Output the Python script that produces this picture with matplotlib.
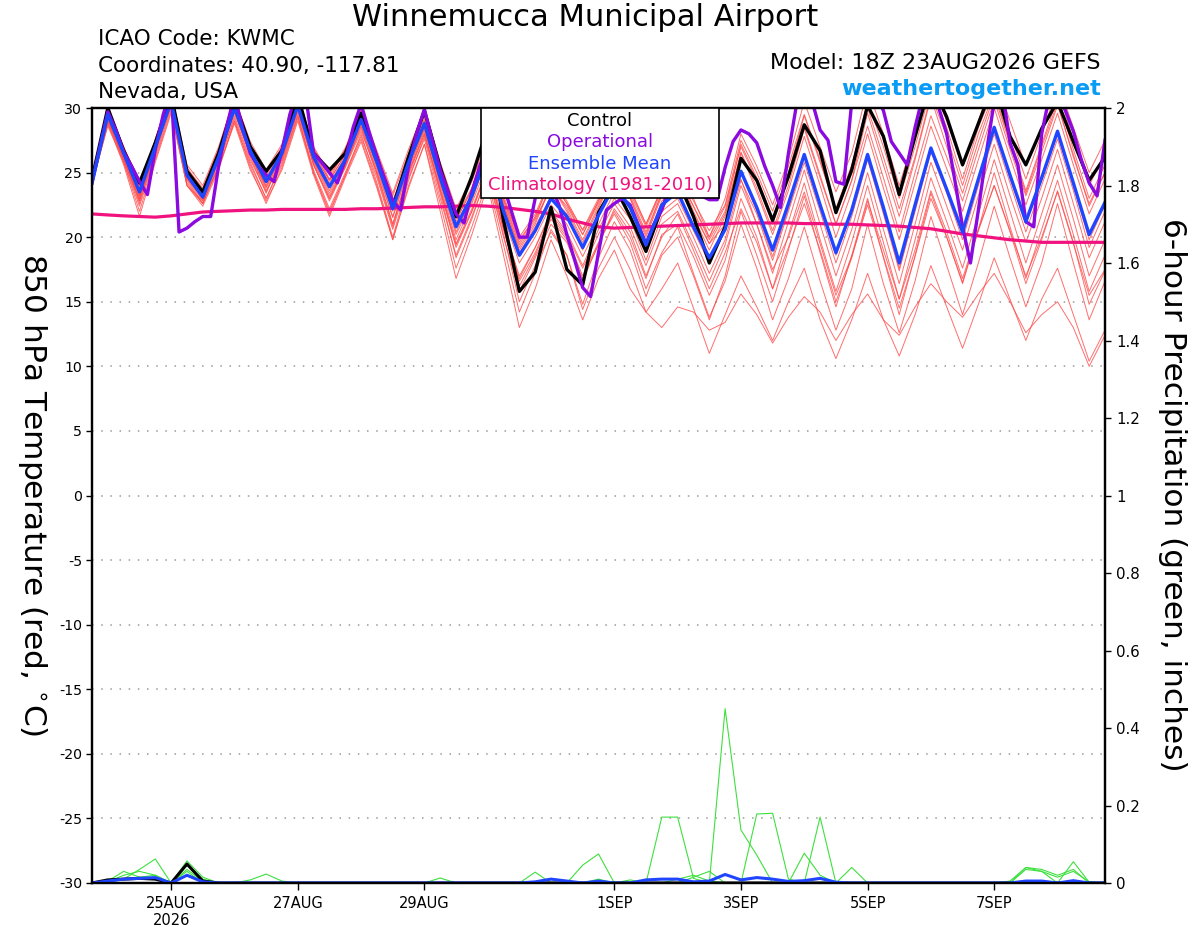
import numpy as np
import matplotlib
matplotlib.use("Agg")
import matplotlib.pyplot as plt
from matplotlib.patches import Rectangle
from datetime import datetime, timedelta

plt.rcParams['font.family'] = ['DejaVu Sans']
plt.rcParams['axes.unicode_minus'] = False

# ---------- data ----------
start = datetime(2026, 8, 23, 18)          # model run 18Z 23AUG2026
hours = np.arange(0, 385, 6)               # 6-hourly ensemble output
op_hours = np.arange(0, 385, 3)            # 3-hourly operational output

tick_days = [datetime(2026, 8, 25), datetime(2026, 8, 27), datetime(2026, 8, 29),
             datetime(2026, 9, 1), datetime(2026, 9, 3), datetime(2026, 9, 5),
             datetime(2026, 9, 7)]

# 850 hPa temperature (C)
control = [24.5, 30.0, 26.7, 24.2, 27.3, 31.0, 25.1, 23.5, 26.5, 30.5, 27.0, 25.1, 26.7,
           31.0, 26.5, 25.2, 26.5, 29.6, 26.2, 22.3, 26.2, 29.8, 25.4, 21.6, 24.7,
           28.5, 21.3, 15.8, 17.3, 22.3, 17.5, 16.3, 21.9, 24.0, 21.6, 18.9, 22.3,
           24.5, 21.6, 18.0, 20.8, 26.1, 24.4, 21.3, 24.7, 28.7, 26.7, 21.9, 25.2,
           30.2, 27.8, 23.3, 27.8, 32.0, 29.3, 25.6, 28.8, 32.0, 27.8, 25.6, 28.4,
           30.5, 27.4, 24.4, 26.2]

ens_mean = [24.2, 29.5, 26.5, 23.5, 27.0, 30.5, 24.8, 23.1, 26.2, 30.0, 26.7, 24.3, 26.5,
            30.2, 26.2, 23.9, 26.0, 29.1, 25.8, 22.2, 25.8, 28.8, 24.6, 20.8, 23.2,
            26.5, 22.0, 18.6, 20.5, 23.0, 21.6, 19.2, 21.7, 24.0, 22.3, 19.4, 22.5,
            23.5, 20.8, 18.4, 20.6, 25.1, 22.3, 19.0, 22.6, 26.4, 22.5, 18.8, 22.1,
            26.4, 22.3, 18.0, 22.5, 26.9, 23.7, 20.4, 24.5, 28.5, 24.8, 21.2, 24.6,
            28.2, 24.2, 20.2, 22.7]

operational = [24.2, 27.0, 29.7, 28.3, 26.6, 25.5, 24.3, 23.3, 26.8, 29.5,
               31.5, 20.4, 20.7, 21.2, 21.6, 21.6, 25.5, 28.5, 31.0, 28.5,
               26.5, 25.5, 24.8, 24.3, 26.7, 29.5, 31.5, 31.0, 26.5, 25.8,
               25.0, 24.2, 26.0, 28.5, 30.3, 28.2, 26.2, 24.5, 22.8, 22.1,
               25.5, 28.0, 29.9, 27.5, 25.2, 23.5, 21.8, 21.1, 23.5, 25.5,
               27.0, 26.0, 24.0, 22.0, 20.0, 20.0, 23.0, 25.0, 24.0, 22.5,
               20.2, 18.2, 16.1, 15.4, 18.8, 22.1, 22.6, 23.0, 22.5, 21.0,
               19.5, 21.0, 22.1, 24.0, 25.0, 25.0, 24.0, 23.2, 22.9, 22.9,
               25.4, 27.4, 28.3, 28.0, 27.3, 25.5, 24.0, 22.3, 26.5, 30.2,
               31.0, 30.5, 28.3, 27.5, 24.3, 24.1, 30.5, 32.0, 32.0, 31.0,
               29.8, 27.4, 26.5, 25.6, 28.5, 31.0, 31.5, 30.0, 28.0, 24.5,
               20.8, 18.0, 22.1, 26.5, 30.5, 31.5, 27.3, 25.6, 21.2, 20.8,
               28.0, 31.0, 31.0, 29.8, 28.2, 26.0, 24.2, 23.2, 27.5]

climatology = [21.8, 21.72, 21.65, 21.6, 21.55, 21.65, 21.8, 21.95, 22.0, 22.05,
               22.1, 22.1, 22.15, 22.15, 22.15, 22.15, 22.15, 22.2, 22.2, 22.25,
               22.3, 22.35, 22.35, 22.4, 22.45, 22.4, 22.3, 22.15, 22.0, 21.8,
               21.4, 21.1, 20.8, 20.7, 20.75, 20.8, 20.85, 20.9, 20.95, 21.0,
               21.05, 21.1, 21.1, 21.1, 21.1, 21.05, 21.05, 21.0, 21.0, 20.95,
               20.9, 20.85, 20.75, 20.65, 20.45, 20.25, 20.1, 19.95, 19.8, 19.7,
               19.6, 19.6, 19.6, 19.6, 19.6]

# ensemble members (thin red)
mem01 = [24.6, 29.8, 26.9, 24.0, 27.5, 31.0, 25.3, 23.8, 26.8, 30.6, 27.2, 25.0, 27.0,
         30.8, 26.8, 24.8, 26.6, 29.8, 26.5, 23.2, 26.5, 29.6, 25.5, 22.0, 24.3,
         27.8, 23.2, 19.8, 21.5, 24.5, 22.8, 20.5, 22.8, 25.5, 23.8, 21.0, 23.8,
         25.2, 22.8, 20.5, 22.5, 27.5, 25.0, 22.0, 25.5, 29.5, 26.0, 22.0, 25.5,
         30.5, 27.0, 23.0, 27.0, 31.5, 28.5, 24.5, 28.5, 31.5, 28.0, 24.5, 28.0,
         31.5, 27.5, 24.0, 26.5]
mem02 = [24.0, 29.2, 26.0, 22.8, 26.6, 30.8, 25.0, 23.4, 26.5, 30.4, 26.5, 24.0, 26.4,
         30.6, 26.9, 24.5, 26.8, 29.5, 26.0, 22.5, 26.0, 29.0, 25.0, 21.4, 23.6,
         27.0, 22.5, 19.2, 21.2, 24.0, 22.0, 19.6, 22.2, 25.0, 23.0, 20.2, 23.4,
         25.5, 23.0, 20.0, 23.0, 28.0, 25.5, 22.5, 26.0, 30.5, 27.0, 23.5, 26.5,
         31.5, 28.0, 24.0, 28.0, 32.0, 29.0, 25.5, 29.0, 32.5, 29.0, 25.5, 28.5,
         32.0, 28.5, 25.0, 27.5]
mem03 = [24.4, 29.0, 26.4, 23.2, 26.8, 30.2, 24.5, 22.8, 26.0, 29.6, 26.4, 23.8, 26.2,
         29.8, 25.8, 23.2, 25.6, 28.6, 25.2, 21.5, 25.2, 28.4, 24.2, 20.2, 22.8,
         26.5, 22.6, 19.0, 21.0, 24.0, 22.2, 19.8, 22.4, 25.0, 23.0, 20.0, 23.2,
         24.5, 21.8, 19.5, 21.8, 26.5, 23.5, 20.2, 23.6, 27.8, 24.0, 20.0, 23.5,
         28.0, 23.8, 19.8, 24.2, 28.6, 25.3, 22.0, 26.0, 30.0, 26.2, 22.5, 26.0,
         29.6, 25.6, 21.8, 24.5]
mem04 = [24.0, 29.6, 26.6, 23.6, 27.2, 30.6, 24.6, 22.9, 26.0, 30.2, 26.9, 24.2, 26.6,
         30.0, 26.0, 23.6, 25.8, 29.0, 25.6, 22.0, 25.6, 28.6, 24.4, 20.4, 23.0,
         26.2, 21.6, 18.0, 20.0, 22.5, 21.0, 18.5, 21.0, 23.5, 21.8, 18.8, 22.0,
         23.0, 20.5, 18.0, 20.5, 25.0, 22.0, 18.5, 22.2, 26.2, 22.4, 18.6, 22.0,
         26.5, 22.0, 17.6, 22.2, 27.0, 23.6, 20.2, 24.6, 28.6, 24.6, 21.0, 24.4,
         28.0, 24.0, 19.8, 22.5]
mem05 = [24.0, 29.0, 26.2, 22.8, 26.6, 30.4, 24.2, 22.6, 25.6, 29.4, 26.0, 23.5, 26.0,
         29.6, 25.6, 22.8, 25.4, 28.2, 25.0, 21.0, 25.0, 28.0, 23.8, 19.5, 22.2,
         25.4, 20.8, 17.0, 19.2, 21.8, 20.2, 17.6, 20.2, 22.6, 20.8, 17.8, 21.0,
         22.0, 19.4, 16.6, 19.4, 24.0, 21.0, 17.2, 21.2, 25.2, 21.0, 17.0, 20.6,
         25.0, 20.6, 16.4, 21.0, 25.8, 22.4, 19.0, 23.2, 27.2, 23.2, 19.6, 23.0,
         26.8, 22.6, 18.4, 21.2]
mem06 = [24.2, 28.6, 25.8, 22.4, 26.2, 30.0, 24.0, 22.8, 25.4, 29.0, 25.6, 23.0, 25.6,
         29.4, 25.2, 22.2, 25.0, 27.8, 24.6, 20.6, 24.6, 27.6, 23.0, 18.6, 21.6,
         24.8, 20.0, 15.8, 18.4, 21.0, 19.6, 16.6, 19.5, 22.0, 20.0, 16.8, 20.2,
         21.0, 18.5, 15.5, 18.2, 23.0, 20.0, 16.0, 20.2, 24.2, 19.8, 15.8, 19.6,
         24.0, 19.6, 15.2, 19.8, 24.6, 21.2, 17.6, 21.8, 26.0, 22.0, 18.0, 21.8,
         25.6, 21.4, 17.0, 19.8]
mem07 = [24.4, 29.2, 26.0, 23.0, 26.8, 30.2, 24.8, 23.2, 26.0, 29.8, 26.2, 23.4, 26.2,
         30.0, 25.6, 23.0, 25.6, 28.4, 24.8, 20.8, 24.8, 28.0, 23.6, 19.4, 22.0,
         25.2, 20.6, 16.6, 18.8, 21.6, 20.0, 17.0, 19.6, 21.8, 19.6, 16.0, 18.8,
         20.8, 17.2, 13.8, 16.6, 21.0, 17.6, 13.6, 16.8, 20.8, 16.6, 12.8, 16.0,
         21.0, 16.4, 12.6, 16.6, 21.6, 17.8, 14.0, 18.0, 22.4, 18.4, 14.6, 18.0,
         22.6, 18.0, 13.6, 16.6]
mem08 = [24.0, 28.8, 25.6, 21.6, 25.8, 29.6, 24.0, 22.6, 25.4, 28.8, 25.2, 22.8, 25.2,
         29.0, 24.8, 21.6, 24.6, 27.4, 23.8, 19.8, 23.8, 27.2, 22.0, 16.8, 20.2,
         24.0, 18.6, 13.0, 16.0, 19.8, 17.0, 13.6, 16.8, 19.0, 16.0, 14.2, 13.0,
         14.6, 14.2, 12.8, 13.4, 15.6, 14.0, 11.8, 13.8, 15.4, 14.2, 12.0, 14.0,
         15.6, 13.6, 12.4, 14.6, 16.4, 15.0, 13.8, 15.6, 17.2, 15.0, 12.6, 14.0,
         15.0, 13.0, 10.0, 12.4]
mem09 = [24.6, 30.0, 27.0, 24.0, 27.4, 31.2, 25.4, 23.6, 26.8, 30.4, 27.0, 24.6, 26.8,
         30.6, 26.6, 24.4, 26.4, 29.6, 26.2, 22.8, 26.2, 29.4, 25.2, 21.6, 23.8,
         27.6, 23.0, 20.0, 21.8, 24.6, 22.6, 20.6, 23.0, 25.8, 23.6, 21.0, 23.8,
         25.0, 22.0, 19.5, 21.0, 24.5, 21.0, 17.5, 20.0, 23.5, 19.5, 15.5, 18.5,
         22.5, 18.5, 14.5, 18.5, 23.0, 20.0, 16.5, 20.5, 24.0, 20.5, 17.0, 20.0,
         23.5, 19.5, 15.5, 17.5]
mem10 = [24.2, 28.8, 26.0, 22.6, 26.4, 30.2, 24.4, 22.6, 25.8, 29.2, 25.8, 23.0, 25.8,
         29.4, 25.0, 22.0, 24.8, 28.0, 24.2, 20.0, 24.4, 27.8, 23.4, 18.4, 21.4,
         25.0, 20.2, 15.0, 17.8, 20.4, 18.6, 14.4, 17.6, 20.0, 17.5, 14.2, 16.0,
         18.0, 14.5, 11.0, 14.0, 17.0, 14.6, 12.0, 15.0, 17.6, 13.6, 10.6, 13.6,
         17.2, 13.6, 10.8, 14.0, 17.8, 14.6, 11.4, 14.8, 18.4, 15.2, 12.0, 15.2,
         17.6, 14.0, 10.4, 12.8]
mem11 = [24.4, 29.4, 26.6, 23.4, 27.0, 30.8, 25.0, 23.2, 26.4, 30.2, 26.8, 24.4, 26.8,
         30.4, 26.4, 24.2, 26.2, 29.2, 25.8, 22.2, 25.8, 29.0, 24.8, 21.0, 23.4,
         26.8, 22.4, 18.8, 20.8, 23.2, 21.8, 19.0, 22.0, 24.2, 22.4, 19.6, 22.8,
         24.0, 21.6, 19.0, 21.6, 26.6, 23.8, 20.5, 24.0, 28.4, 24.6, 21.0, 24.4,
         29.6, 25.6, 21.6, 26.0, 30.8, 27.0, 23.4, 27.4, 31.0, 27.2, 23.4, 27.0,
         30.4, 26.2, 22.6, 25.0]
mem12 = [24.2, 29.0, 25.8, 22.0, 26.0, 29.8, 24.0, 22.4, 25.2, 29.0, 25.4, 22.6, 25.4,
         29.2, 25.0, 21.8, 24.8, 27.6, 24.0, 19.8, 24.0, 27.2, 22.6, 17.6, 20.8,
         24.4, 19.4, 14.2, 17.2, 20.6, 18.6, 14.8, 18.4, 21.2, 19.0, 15.4, 18.6,
         20.0, 17.0, 13.6, 17.0, 22.0, 18.6, 15.0, 19.0, 23.2, 18.8, 14.6, 18.6,
         23.0, 18.4, 14.0, 18.6, 23.4, 20.0, 16.4, 20.6, 25.0, 20.8, 16.8, 20.6,
         24.4, 20.2, 15.8, 18.6]
mem13 = [24.6, 29.8, 27.0, 24.2, 27.6, 31.2, 25.6, 24.0, 27.0, 30.8, 27.4, 25.2, 27.2,
         31.0, 27.0, 24.9, 26.9, 30.0, 26.7, 23.4, 26.8, 29.9, 25.8, 22.2, 24.6,
         27.0, 22.8, 19.4, 21.4, 23.8, 22.4, 20.2, 22.6, 24.8, 23.2, 20.4, 23.4,
         24.8, 22.4, 20.0, 22.4, 27.0, 24.4, 21.0, 24.6, 28.6, 24.8, 21.0, 24.4,
         28.6, 24.6, 20.4, 25.0, 29.4, 26.2, 22.8, 26.8, 30.6, 26.8, 23.2, 26.6,
         30.2, 26.4, 22.4, 25.0]
mem14 = [24.0, 29.4, 26.3, 23.0, 26.8, 30.3, 24.6, 23.0, 26.0, 29.7, 26.4, 23.9, 26.3,
         29.9, 25.9, 23.4, 25.7, 28.8, 25.4, 21.6, 25.4, 28.4, 24.0, 19.8, 22.6,
         25.8, 21.0, 16.8, 19.2, 22.0, 20.4, 17.8, 20.6, 23.0, 21.4, 18.2, 21.6,
         22.6, 20.0, 17.2, 19.8, 24.4, 21.8, 18.2, 22.0, 25.8, 22.0, 18.0, 21.6,
         26.0, 21.8, 17.4, 22.0, 26.6, 23.4, 19.8, 24.0, 28.0, 24.2, 20.4, 24.0,
         27.6, 23.6, 19.2, 22.0]
mem15 = [24.2, 29.2, 26.2, 23.2, 26.8, 30.4, 24.8, 23.0, 26.0, 29.8, 26.4, 23.6, 26.0,
         29.8, 25.6, 23.0, 25.4, 28.6, 25.0, 21.0, 25.0, 28.2, 23.6, 19.2, 22.0,
         25.4, 20.6, 16.2, 18.6, 21.4, 19.8, 16.8, 19.4, 22.2, 20.4, 17.0, 20.0,
         21.8, 19.0, 16.0, 18.8, 22.2, 19.6, 16.0, 19.2, 22.6, 19.0, 15.0, 18.4,
         22.8, 19.0, 15.2, 19.0, 23.6, 20.4, 16.8, 20.6, 24.0, 20.4, 16.4, 19.8,
         23.6, 19.6, 14.8, 17.4]
mem16 = [24.4, 29.6, 26.7, 23.8, 27.3, 30.9, 25.2, 23.6, 26.6, 30.3, 27.1, 24.8, 26.9,
         30.5, 26.5, 24.4, 26.4, 29.4, 26.0, 22.7, 26.1, 29.2, 25.0, 21.2, 23.8,
         27.4, 22.9, 19.6, 21.6, 24.4, 22.6, 20.2, 22.8, 25.2, 23.4, 20.8, 23.6,
         24.8, 22.4, 19.8, 22.0, 27.2, 24.6, 21.4, 25.0, 29.4, 25.8, 22.2, 25.6,
         30.0, 26.2, 22.2, 26.2, 31.0, 27.8, 24.0, 28.0, 31.2, 27.4, 23.6, 27.2,
         30.8, 26.8, 23.0, 25.6]
members = [mem01, mem02, mem03, mem04, mem05, mem06, mem07, mem08,
           mem09, mem10, mem11, mem12, mem13, mem14, mem15, mem16]

# 6-hour precipitation (inches)
pcp_control = [0, 0.008, 0.01, 0.012, 0.01, 0, 0.049, 0.005] + [0] * 57
pcp_mean = ([0, 0.005, 0.01, 0.012, 0.014, 0, 0.02, 0.003] + [0] * 20
            + [0.003, 0.01, 0.005, 0, 0.005, 0, 0, 0.008, 0.01, 0.01, 0.003, 0.005,
               0.022, 0.008, 0.014, 0.01, 0.004, 0.006, 0.012, 0.002]
            + [0] * 11 + [0.005, 0.005, 0, 0.006, 0, 0])
pcp01 = [0, 0.005, 0.03, 0.015, 0.02, 0, 0.057, 0.015] + [0] * 57
pcp02 = [0, 0, 0.01, 0.035, 0.062, 0, 0.035, 0.005, 0, 0, 0.008, 0.023, 0.005] + [0] * 52
pcp03 = ([0, 0.003, 0.02, 0.03, 0.02, 0, 0.045, 0.01] + [0] * 14 + [0.013] + [0] * 5
         + [0.028] + [0] * 36)
pcp04 = [0] * 31 + [0.046, 0.075, 0, 0, 0, 0.17, 0.17, 0.012] + [0] * 26
pcp05 = [0] * 40 + [0.45, 0.137, 0.072] + [0] * 16 + [0.04, 0.035, 0.02, 0.035] + [0] * 2
pcp06 = [0] * 42 + [0.178, 0.18, 0.01, 0, 0.17] + [0] * 12 + [0.035, 0.03, 0, 0.055, 0.002, 0]
pcp07 = [0] * 38 + [0.015, 0.03, 0, 0, 0, 0, 0, 0.077, 0.02, 0, 0.04] + [0] * 16
pcp08 = [0] * 32 + [0.01, 0, 0.008, 0, 0, 0.01, 0.02, 0.005] + [0] * 25
pcp09 = [0] * 6 + [0.03] + [0] * 51 + [0.005, 0.04, 0.03, 0.015, 0.03, 0.003, 0]
pcp_members = [pcp01, pcp02, pcp03, pcp04, pcp05, pcp06, pcp07, pcp08, pcp09]

# ---------- figure ----------
W, H = 1200, 927
fig = plt.figure(figsize=(W / 100, H / 100), dpi=100)
ax = fig.add_axes([92 / W, 1 - 883 / H, (1105 - 92) / W, (883 - 108) / H])
ax2 = ax.twinx()

for m in members:
    ax.plot(hours, m, color='#ff4a4a', lw=0.7, alpha=0.8)
ax.plot(hours, climatology, color='#f0137f', lw=2.3)
ax.plot(hours, control, color='black', lw=2.4)
ax.plot(op_hours, operational, color='#8a0ae0', lw=2.4)
ax.plot(hours, ens_mean, color='#1f45ff', lw=2.4)

for p in pcp_members:
    ax2.plot(hours, p, color='#3ee03e', lw=0.8)
ax2.plot(hours, pcp_control, color='black', lw=2.2)
ax2.plot(hours, pcp_mean, color='#1f45ff', lw=2.2)

ax.set_xlim(0, 384)
ax.set_ylim(-30, 30)
ax2.set_ylim(0, 2)
ax.set_yticks(np.arange(-30, 31, 5))
ax2.set_yticks(np.arange(0, 2.001, 0.2))
ax2.set_yticklabels([f"{v:g}" for v in np.arange(0, 2.001, 0.2)])

tick_hours = [(d - start).total_seconds() / 3600 for d in tick_days]
tick_labels = [f"{d.day}{d.strftime('%b').upper()}" for d in tick_days]
tick_labels[0] += "\n2026"
ax.set_xticks(tick_hours)
ax.set_xticklabels(tick_labels, fontsize=10.5)

ax.yaxis.grid(True, linestyle=(0, (1, 5)), color='#9a9a9a', lw=1.1)
ax.tick_params(axis='y', labelsize=10.2, length=4, width=1, pad=3)
ax.tick_params(axis='x', length=5, width=1, pad=4)
ax2.tick_params(axis='y', labelsize=10.8, length=4, width=1, pad=4)
for a in (ax, ax2):
    for s in a.spines.values():
        s.set_linewidth(1.6)

# legend box
ax2.add_patch(Rectangle((0.384, 0.884), 0.235, 0.116, transform=ax2.transAxes,
                        facecolor='white', edgecolor='black', lw=1.2, zorder=10))
leg_items = [("Control", 'black'), ("Operational", '#8a0ae0'),
             ("Ensemble Mean", '#1f45ff'), ("Climatology (1981-2010)", '#f0137f')]
for k, (txt, col) in enumerate(leg_items):
    ax2.text(0.5015, 0.983 - k * 0.0275, txt, color=col, fontsize=13,
             ha='center', va='center', transform=ax2.transAxes, zorder=11)

# header texts
fig.text(0.4875, 1 - 18 / H, "Winnemucca Municipal Airport", fontsize=22,
         ha='center', va='center')
fig.text(98 / W, 1 - 39 / H, "ICAO Code: KWMC", fontsize=15.5, ha='left', va='center')
fig.text(98 / W, 1 - 66 / H, "Coordinates: 40.90, -117.81", fontsize=15.5, ha='left', va='center')
fig.text(98 / W, 1 - 92 / H, "Nevada, USA", fontsize=15.5, ha='left', va='center')
fig.text(1101 / W, 1 - 63 / H, "Model: 18Z 23AUG2026 GEFS", fontsize=16,
         ha='right', va='center')
fig.text(1101 / W, 1 - 89 / H, "weathertogether.net", fontsize=16, fontweight='bold',
         color='#0a9cf5', ha='right', va='center')

fig.text(32 / W, 1 - 495 / H, "850 hPa Temperature (red, $^{\\circ}$C)", fontsize=22.5,
         rotation=-90, ha='center', va='center')
fig.text(1172 / W, 1 - 495 / H, "6-hour Precipitation (green, inches)", fontsize=22.5,
         rotation=-90, ha='center', va='center')

fig.savefig("out.png", dpi=100)
